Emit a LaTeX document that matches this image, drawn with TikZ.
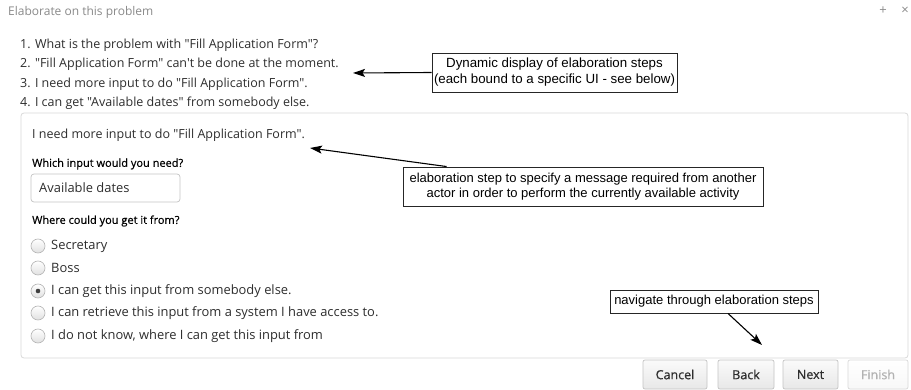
\documentclass[tikz,border=0pt]{standalone}
\usepackage{fontspec}
\setmainfont{Open Sans}[Ligatures=TeXOff]
\newfontfamily\notefont{Liberation Sans}
\newfontfamily\uisemi{Open Sans}[Ligatures=TeXOff,FakeBold=0.5]
\usetikzlibrary{arrows.meta}
\definecolor{uitext}{HTML}{2E2E2E}
\definecolor{uigrey}{HTML}{8A8A8A}
\definecolor{paneledge}{HTML}{DADADA}
\definecolor{btnedge}{HTML}{C4C4C4}
\definecolor{btntop}{HTML}{FAFAFA}
\definecolor{btnbot}{HTML}{E8E8E8}
\definecolor{radioedge}{HTML}{B5B5B5}
\begin{document}
\begin{tikzpicture}[x=1pt,y=-1pt,
  txt/.style={anchor=west,inner sep=0pt,text=uitext,font=\fontsize{12.5}{14}\selectfont},
  opt/.style={anchor=west,inner sep=0pt,text=uitext,font=\fontsize{12.9}{14}\selectfont},
  small/.style={anchor=west,inner sep=0pt,text=black,font=\uisemi\fontsize{11}{13}\selectfont},
  note/.style={draw=black!85,line width=0.9pt,fill=white,align=center,inner sep=0pt,
               font=\notefont\fontsize{13}{15}\selectfont},
  pointer/.style={line width=1.1pt,-{Stealth[length=12pt,width=8pt,inset=2.5pt]}},
  radio/.style={circle,draw=radioedge,line width=0.6pt,minimum size=14pt,inner sep=0pt,
                top color=white,bottom color=black!12},
  btn/.style={draw=btnedge,line width=0.7pt,rounded corners=2pt,top color=btntop,bottom color=btnbot,
              inner sep=0pt,font=\uisemi\fontsize{12.5}{14}\selectfont,text=uitext}
]
\useasboundingbox (0,0) rectangle (911,390);
\fill[white] (0,0) rectangle (911,390);

% window title bar
\node[anchor=west,inner sep=0pt,text=uigrey,font=\fontsize{12}{14}\selectfont] (title) at (8,12) {Elaborate on this problem};
\node[inner sep=0pt,text=black!45,font=\fontsize{13}{14}\selectfont] (plus) at (883,11) {+};
\node[inner sep=0pt,text=black!45,font=\fontsize{13}{14}\selectfont] (close) at (905,11) {×};

% elaboration steps
\node[txt] (s1) at (20,45) {1. What is the problem with "Fill Application Form"?};
\node[txt] (s2) at (20,64) {2. "Fill Application Form" can't be done at the moment.};
\node[txt] (s3) at (20,84) {3. I need more input to do "Fill Application Form".};
\node[txt] (s4) at (20,103) {4. I can get "Available dates" from somebody else.};

% form panel
\draw[paneledge,line width=0.8pt,rounded corners=3pt] (21,113) rectangle (908,358);
\node[txt] (head) at (32,135) {I need more input to do "Fill Application Form".};
\node[small] (q1) at (32,164) {Which input would you need?};
\draw[btnedge,line width=0.7pt,rounded corners=3pt,fill=white] (31,174) rectangle (180,202);
\node[opt] (field) at (39,188) {Available dates};
\node[small] (q2) at (32,221) {Where could you get it from?};

\foreach \n/\y/\t in {r1/246/Secretary, r2/268/Boss, r3/291/I can get this input from somebody else.,
                      r4/313/I can retrieve this input from a system I have access to.,
                      r5/336/I do not know{,} where I can get this input from}{
  \node[radio] (\n) at (38,\y) {};
  \node[opt] (\n-label) at (51,\y) {\t};
}
\fill[black!75] (r3) circle (2.3pt);

% buttons
\node[btn,minimum width=64pt,minimum height=29pt] (cancel) at (675,374.5) {Cancel};
\node[btn,minimum width=56pt,minimum height=29pt] (back) at (746,374.5) {Back};
\node[btn,minimum width=55pt,minimum height=29pt] (next) at (810.5,374.5) {Next};
\node[btn,minimum width=60pt,minimum height=29pt,text=black!30,draw=black!15,top color=white,bottom color=black!3] (finish) at (878,374.5) {Finish};

% annotations
\node[note,minimum width=245pt,minimum height=39pt,font=\notefont\fontsize{13.3}{16}\selectfont] (n1) at (554.5,72.5)
  {Dynamic display of elaboration steps\\(each bound to a specific UI - see below)};
\node[note,minimum width=360pt,minimum height=39pt] (n2) at (583,186.5)
  {elaboration step to specify a message required from another\\actor in order to perform the currently available activity};
\node[note,minimum width=208pt,minimum height=23pt] (n3) at (714,301.5)
  {navigate through elaboration steps};

\coordinate (t1) at (353,73);
\coordinate (t2) at (310,148);
\coordinate (t3) at (762,345);
\draw[pointer] (n1.west) -- (t1);
\draw[pointer] (n2.north west) ++(44,0) -- (t2);
\draw[pointer] (n3.south) ++(14,0) -- (t3);
\end{tikzpicture}
\end{document}
